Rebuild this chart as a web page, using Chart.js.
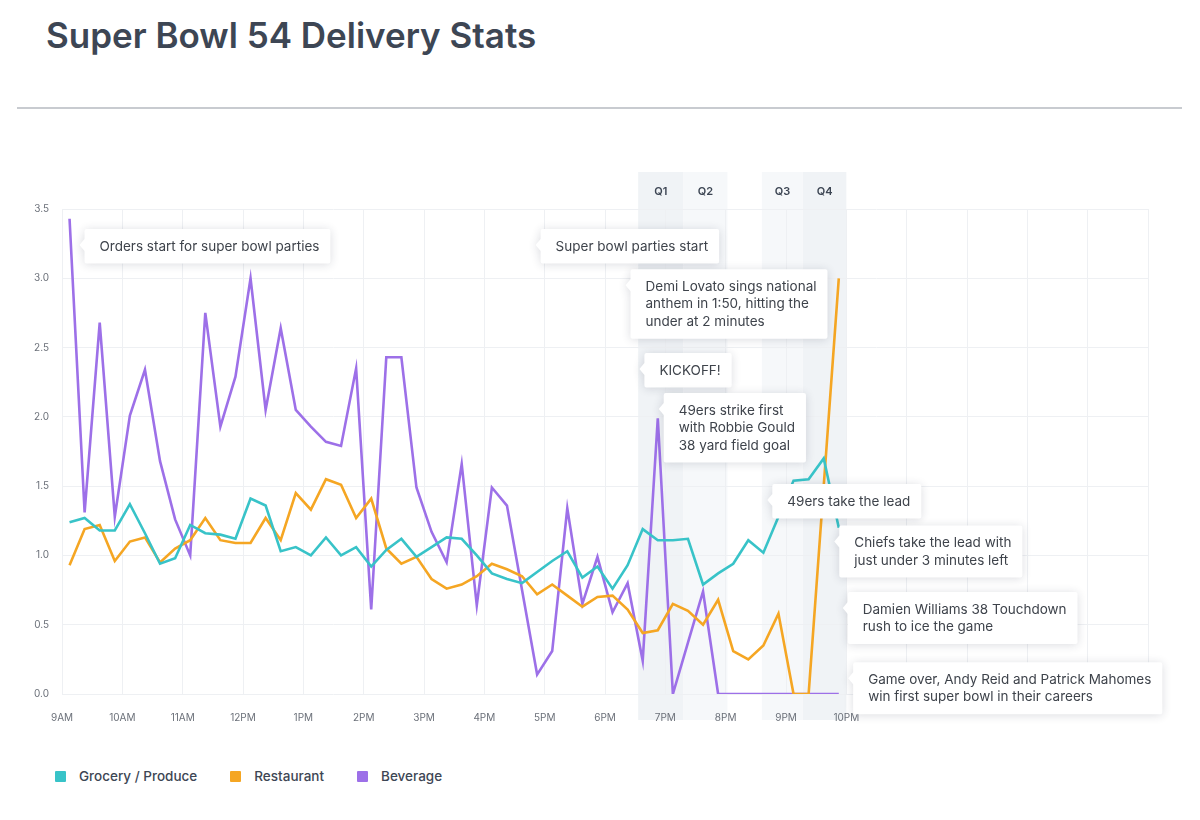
<!DOCTYPE html>
<html>
<head>
<meta charset="utf-8">
<script src="https://cdn.jsdelivr.net/npm/chart.js@4.4.1/dist/chart.umd.min.js"></script>
<style>
  body { margin: 0; background: #fff; font-family: Inter, "Noto Sans", sans-serif; }
  #page { position: relative; width: 1200px; height: 820px; overflow: hidden; }
  h1 { position: absolute; left: 46px; top: 18px; margin: 0; font-size: 35px; line-height: 35px; font-weight: 600; color: #3d4654; }
  #rule { position: absolute; left: 17px; top: 107px; width: 1165px; height: 2px; background: #c8cbd0; }
  #chart { position: absolute; left: 0; top: 150px; }
  #legend { position: absolute; left: 55px; top: 766px; display: flex; align-items: center; font-size: 13.5px; font-weight: 500; color: #3d4654; }
  #legend .item { display: flex; align-items: center; margin-right: 33px; height: 20px; }
  #legend .box { width: 11px; height: 11px; margin-right: 13px; border-radius: 1px; }
</style>
</head>
<body>
<div id="page">
  <h1>Super Bowl 54 Delivery Stats</h1>
  <div id="rule"></div>
  <canvas id="chart" width="1200" height="600"></canvas>
  <div id="legend"></div>
</div>
<script>
// hour labels along the bottom, 9AM .. 10PM
var hourLabels = ['9AM', '10AM', '11AM', '12PM', '1PM', '2PM', '3PM', '4PM', '5PM', '6PM', '7PM', '8PM', '9PM', '10PM'];

// one value per 15 minute slot, starting 9:00
var grocery = [1.24, 1.27, 1.18, 1.18, 1.37, 1.16, 0.94, 0.98, 1.22, 1.16, 1.15, 1.12, 1.41,
  1.36, 1.03, 1.06, 1.00, 1.13, 1.00, 1.06, 0.92, 1.04, 1.12, 0.99, 1.06,
  1.13, 1.12, 1.00, 0.87, 0.83, 0.80, 0.88, 0.96, 1.03, 0.84, 0.92, 0.76, 0.93,
  1.19, 1.11, 1.11, 1.12, 0.79, 0.87, 0.94, 1.11, 1.02, 1.28, 1.54, 1.55, 1.70, 1.20];
var restaurant = [0.93, 1.19, 1.22, 0.96, 1.10, 1.13, 0.95, 1.05, 1.11, 1.27, 1.11, 1.09, 1.09,
  1.27, 1.11, 1.45, 1.33, 1.55, 1.51, 1.27, 1.41, 1.05, 0.94, 0.99, 0.83,
  0.76, 0.79, 0.85, 0.94, 0.90, 0.85, 0.72, 0.79, 0.71, 0.63, 0.70, 0.71, 0.61,
  0.44, 0.46, 0.65, 0.60, 0.50, 0.68, 0.31, 0.25, 0.35, 0.58, 0, 0, 1.5, 3.0];
var beverage = [3.43, 1.31, 2.68, 1.28, 2.01, 2.34, 1.68, 1.26, 1.00, 2.75, 1.93, 2.29,
  3.0, 2.05, 2.64, 2.05, 1.93, 1.82, 1.79, 2.35, 0.61, 2.43, 2.43, 1.49, 1.17,
  0.95, 1.66, 0.64, 1.49, 1.36, 0.75, 0.14, 0.31, 1.34, 0.65, 0.99, 0.59, 0.80,
  0.24, 1.99, 0, 0.37, 0.74, 0, 0, 0, 0, 0, 0, 0, 0, 0];

var seriesNames = ['Grocery / Produce', 'Restaurant', 'Beverage'];
var seriesColors = ['#38c3c8', '#f5a623', '#9d70e8'];

// game quarters, in hours of the day
var quarterNames = ['Q1', 'Q2', 'Q3', 'Q4'];
var quarterStart = [18.55, 19.3, 20.6, 21.28];
var quarterEnd = [19.3, 20.03, 21.28, 22.0];
var quarterFill = ['#f0f3f6', '#f6f8fa', '#f6f8fa', '#f0f3f6'];

// call-outs: time (hours), value it points at, text lines
var noteTimes = [9.29, 16.85, 18.34, 18.57, 18.89, 20.69, 21.8, 21.94, 22.03];
var noteValues = [3.24, 3.24, 2.95, 2.345, 2.056, 1.40, 1.10, 0.62, 0.113];
var noteTexts = [
  ['Orders start for super bowl parties'],
  ['Super bowl parties start'],
  ['Demi Lovato sings national', 'anthem in 1:50, hitting the', 'under at 2 minutes'],
  ['KICKOFF!'],
  ['49ers strike first', 'with Robbie Gould', '38 yard field goal'],
  ['49ers take the lead'],
  ['Chiefs take the lead with', 'just under 3 minutes left'],
  ['Damien Williams 38 Touchdown', 'rush to ice the game'],
  ['Game over, Andy Reid and Patrick Mahomes', 'win first super bowl in their careers']
];

function toPoints(values) {
  return values.map(function (v, i) { return { x: 9 + (i + 0.5) / 4, y: v }; });
}

var quarterBands = {
  id: 'quarterBands',
  beforeDraw: function (chart) {
    var ctx = chart.ctx, area = chart.chartArea, xs = chart.scales.x;
    ctx.save();
    for (var i = 0; i < quarterNames.length; i++) {
      var x0 = xs.getPixelForValue(quarterStart[i]);
      var x1 = xs.getPixelForValue(quarterEnd[i]);
      ctx.fillStyle = quarterFill[i];
      ctx.fillRect(x0, area.top - 37, x1 - x0, area.bottom - area.top + 63);
      ctx.fillStyle = '#3d4654';
      ctx.font = '600 11px Inter';
      ctx.textAlign = 'center';
      ctx.textBaseline = 'middle';
      ctx.fillText(quarterNames[i], (x0 + x1) / 2, area.top - 17);
    }
    ctx.restore();
  }
};

var callouts = {
  id: 'callouts',
  afterDatasetsDraw: function (chart) {
    var ctx = chart.ctx, xs = chart.scales.x, ys = chart.scales.y;
    ctx.save();
    ctx.font = '13.5px Inter';
    for (var i = 0; i < noteTexts.length; i++) {
      var lines = noteTexts[i];
      var px = xs.getPixelForValue(noteTimes[i]);
      var py = ys.getPixelForValue(noteValues[i]);
      var w = 0;
      lines.forEach(function (t) { w = Math.max(w, ctx.measureText(t).width); });
      w += 26;
      var h = 17 + lines.length * 17.5;
      var left = px + 5, top = py - 16;

      ctx.shadowColor = 'rgba(30, 40, 60, 0.16)';
      ctx.shadowBlur = 10;
      ctx.shadowOffsetY = 1;
      ctx.fillStyle = '#ffffff';
      ctx.beginPath();
      ctx.moveTo(left + 2, top);
      ctx.lineTo(left + w - 2, top);
      ctx.quadraticCurveTo(left + w, top, left + w, top + 2);
      ctx.lineTo(left + w, top + h - 2);
      ctx.quadraticCurveTo(left + w, top + h, left + w - 2, top + h);
      ctx.lineTo(left + 2, top + h);
      ctx.quadraticCurveTo(left, top + h, left, top + h - 2);
      ctx.lineTo(left, py + 6);
      ctx.lineTo(px, py);
      ctx.lineTo(left, py - 6);
      ctx.lineTo(left, top + 2);
      ctx.quadraticCurveTo(left, top, left + 2, top);
      ctx.closePath();
      ctx.fill();

      ctx.shadowColor = 'transparent';
      ctx.fillStyle = '#3e434b';
      ctx.textAlign = 'left';
      ctx.textBaseline = 'middle';
      for (var j = 0; j < lines.length; j++) {
        ctx.fillText(lines[j], left + 15, top + 17.5 + j * 17.5);
      }
    }
    ctx.restore();
  }
};

var datasets = [grocery, restaurant, beverage].map(function (vals, i) {
  return {
    label: seriesNames[i],
    data: toPoints(vals),
    borderColor: seriesColors[i],
    backgroundColor: seriesColors[i],
    borderWidth: 2.6,
    pointRadius: 0,
    tension: 0
  };
});

Chart.defaults.font.family = 'Inter, "Noto Sans", sans-serif';

var chart = new Chart(document.getElementById('chart'), {
  type: 'line',
  data: { datasets: datasets },
  options: {
    responsive: false,
    animation: false,
    devicePixelRatio: 1,
    layout: { padding: { top: 59, right: 52, bottom: 0, left: 0 } },
    plugins: {
      legend: { display: false },
      tooltip: { enabled: false }
    },
    scales: {
      x: {
        type: 'linear',
        min: 9,
        max: 27,
        afterFit: function (scale) { scale.height = 56; },
        border: { display: false },
        grid: { color: '#eef0f3', drawTicks: false },
        ticks: {
          stepSize: 1,
          autoSkip: false,
          maxRotation: 0,
          padding: 18,
          color: '#6b7079',
          font: { size: 10 },
          callback: function (v) { return hourLabels[v - 9] || ''; }
        }
      },
      y: {
        min: 0,
        max: 3.5,
        afterFit: function (scale) { scale.width = 62; },
        border: { display: false },
        grid: { color: '#eef0f3', drawTicks: false },
        ticks: {
          stepSize: 0.5,
          padding: 13,
          color: '#6b7079',
          font: { size: 10 },
          callback: function (v) { return v.toFixed(1); }
        }
      }
    }
  },
  plugins: [quarterBands, callouts]
});

// legend under the chart
var legend = document.getElementById('legend');
seriesNames.forEach(function (name, i) {
  var item = document.createElement('div');
  item.className = 'item';
  var box = document.createElement('span');
  box.className = 'box';
  box.style.background = seriesColors[i];
  item.appendChild(box);
  item.appendChild(document.createTextNode(name));
  legend.appendChild(item);
});
</script>
</body>
</html>
